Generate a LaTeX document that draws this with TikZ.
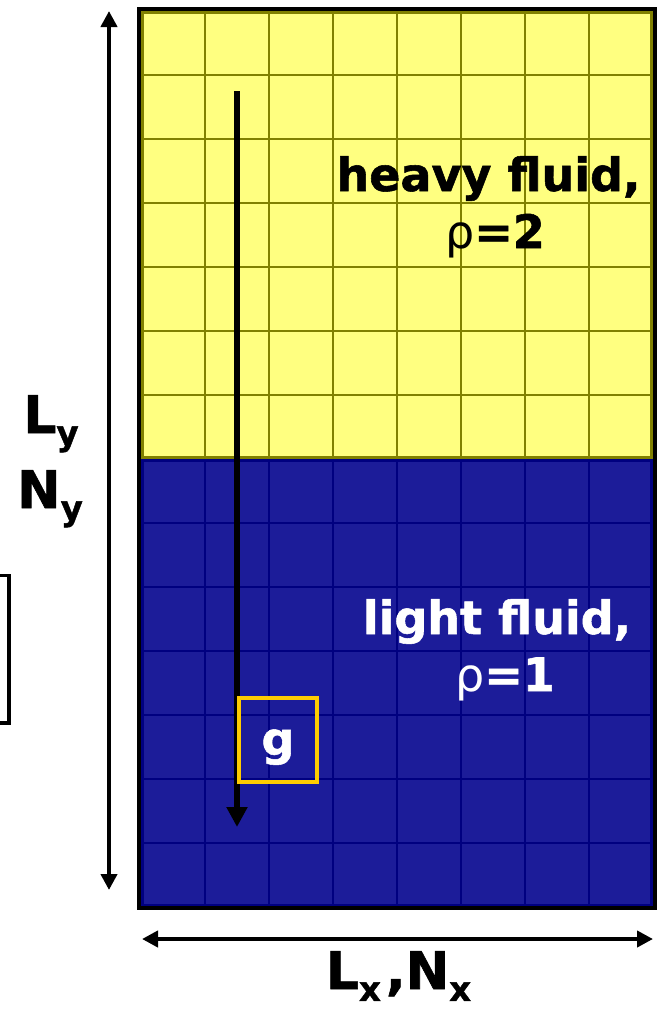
\documentclass[tikz,border=0pt]{standalone}
\usepackage{fontspec}
\setmainfont{DejaVu Sans}[BoldFeatures={FakeBold=1.2}]
\usetikzlibrary{arrows.meta}
\definecolor{heavyfill}{HTML}{FFFF80}
\definecolor{heavyline}{HTML}{808000}
\definecolor{lightfill}{HTML}{1C1C99}
\definecolor{lightline}{HTML}{000080}
\definecolor{gold}{HTML}{FFCC00}
\newcommand{\subs}[1]{\raisebox{-0.23em}{\fontsize{34}{34}\selectfont #1}}
\begin{document}
\begin{tikzpicture}[x=1pt,y=-1pt,
  bigtxt/.style={font=\bfseries\fontsize{46}{52}\selectfont, inner sep=0pt, anchor=base},
  dimtxt/.style={font=\bfseries\fontsize{52}{56}\selectfont, inner sep=0pt, anchor=base},
  dimarrow/.style={line width=4pt, {Triangle[length=16pt,width=16pt]}-{Triangle[length=16pt,width=16pt]}},
  garrow/.style={line width=6.3pt, -{Triangle[length=20pt,width=20pt]}},
  gbox/.style={draw=gold, line width=3.5pt, minimum width=78pt, minimum height=84pt, inner sep=0pt}]
\useasboundingbox (0,0) rectangle (660,1009);
% heavy fluid region
\fill[heavyfill] (141,11) rectangle (653,459);
\foreach \xx in {205,269,333,397,461,525,589}
  \draw[heavyline, line width=2pt] (\xx,11) -- (\xx,459);
\foreach \yy in {75,139,203,267,331,395}
  \draw[heavyline, line width=2pt] (141,\yy) -- (653,\yy);
\draw[heavyline, line width=3pt] (142.5,12.5) rectangle (651.5,457.5);
% light fluid region
\fill[lightfill] (141,459) rectangle (653,907);
\foreach \xx in {205,269,333,397,461,525,589}
  \draw[lightline, line width=2pt] (\xx,459) -- (\xx,907);
\foreach \yy in {523,587,651,715,779,843}
  \draw[lightline, line width=2pt] (141,\yy) -- (653,\yy);
\draw[lightline, line width=3pt] (142.5,460.5) rectangle (651.5,905);
% frame
\draw[black, line width=4pt] (139.2,8.8) rectangle (655.3,908.3);
% partial box at left edge
\draw[black, line width=3.5pt] (0,575.5) -- (9.2,575.5) -- (9.2,723) -- (0,723);
% texts
\node[bigtxt] (heavy) at (488.5,191) {heavy fluid,};
\node[bigtxt] (rho2) at (495,248) {{\mdseries ρ}=2};
\node[bigtxt, text=white] (light) at (497,634) {light fluid,};
\node[bigtxt, text=white] (rho1) at (505,691) {{\mdseries ρ}=1};
% gravity
\coordinate (gtop) at (237,91);
\coordinate (gbot) at (237,827);
\draw[garrow] (gtop) -- (gbot);
\node[gbox] (gb) at (278,740) {};
\node[bigtxt, text=white] (g) at (278,755) {g};
% dimensions
\coordinate (ytop) at (109,11);
\coordinate (ybot) at (109,890);
\draw[dimarrow] (ybot) -- (ytop);
\coordinate (xl) at (142,939);
\coordinate (xr) at (653,939);
\draw[dimarrow] (xl) -- (xr);
\node[dimtxt] (Ly) at (51,433) {L\subs{y}};
\node[dimtxt] (Ny) at (50,508) {N\subs{y}};
\node[dimtxt] (LxNx) at (398.5,989) {L\subs{x}\hspace{5pt},N\subs{x}};
\end{tikzpicture}
\end{document}
